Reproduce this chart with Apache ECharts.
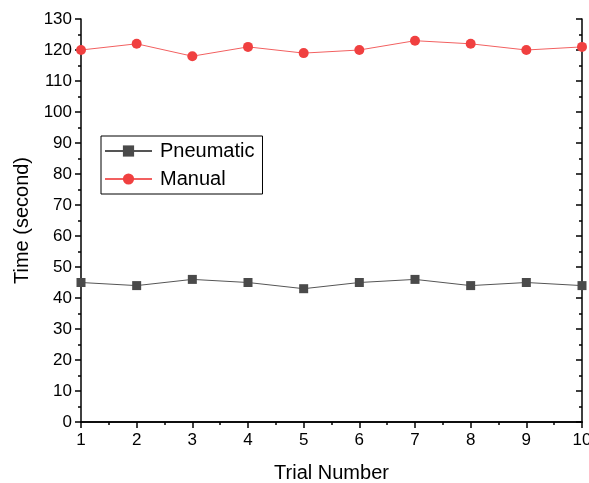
<!DOCTYPE html>
<html>
<head>
<meta charset="utf-8">
<script src="https://cdn.jsdelivr.net/npm/echarts@6/dist/echarts.min.js"></script>
<style>
  html, body { margin: 0; padding: 0; background: #fff; }
  #chart { width: 589px; height: 483px; }
</style>
</head>
<body>
<div id="chart"></div>
<script>
// trial numbers and measured times (seconds)
var trials = [1, 2, 3, 4, 5, 6, 7, 8, 9, 10];
var pneumatic = [45, 44, 46, 45, 43, 45, 46, 44, 45, 44];
var manual = [120, 122, 118, 121, 119, 120, 123, 122, 120, 121];

function pairs(vals) {
  var out = [];
  for (var i = 0; i < trials.length; i++) {
    out.push([trials[i], vals[i]]);
  }
  return out;
}

var chart = echarts.init(document.getElementById('chart'), null, { renderer: 'canvas' });

var font = 'Liberation Sans, Arial, sans-serif';
var axisLine = { show: true, lineStyle: { color: '#000', width: 1.5 } };

var option = {
  animation: false,
  textStyle: { fontFamily: font },
  grid: { left: 81, right: 7, top: 19, bottom: 61, outerBoundsMode: 'none', containLabel: false },
  legend: {
    orient: 'vertical',
    left: 101,
    top: 136,
    width: 157,
    padding: [5, 8, 5, 3],
    itemGap: 8,
    itemWidth: 47,
    itemHeight: 14,
    borderColor: '#000',
    borderWidth: 1,
    textStyle: { fontSize: 20, color: '#000', fontFamily: font, padding: [0, 0, 0, 3] },
    data: ['Pneumatic', 'Manual']
  },
  xAxis: [{
    type: 'value',
    min: 1, max: 10, interval: 1,
    name: 'Trial Number',
    nameLocation: 'middle',
    nameGap: 41,
    nameTextStyle: { fontSize: 20, color: '#000' },
    axisLine: axisLine,
    axisTick: { show: true, inside: false, length: 6, lineStyle: { color: '#000', width: 1.5 } },
    minorTick: { show: true, splitNumber: 2, length: 3, lineStyle: { color: '#000', width: 1.5 } },
    axisLabel: { fontSize: 17, color: '#000', margin: 10 },
    splitLine: { show: false }
  }, {
    type: 'value',
    position: 'top',
    min: 1, max: 10, interval: 1,
    axisLine: axisLine,
    axisTick: { show: true, inside: true, length: 6, lineStyle: { color: '#000', width: 1.5 } },
    minorTick: { show: true, splitNumber: 2, length: 3, lineStyle: { color: '#000', width: 1.5 } },
    axisLabel: { show: false },
    splitLine: { show: false }
  }],
  yAxis: [{
    type: 'value',
    min: 0, max: 130, interval: 10,
    name: 'Time (second)',
    nameLocation: 'middle',
    nameGap: 43,
    nameTextStyle: { fontSize: 20, color: '#000' },
    axisLine: axisLine,
    axisTick: { show: true, inside: false, length: 6, lineStyle: { color: '#000', width: 1.5 } },
    minorTick: { show: true, splitNumber: 2, length: 3, lineStyle: { color: '#000', width: 1.5 } },
    axisLabel: { fontSize: 17, color: '#000', margin: 9 },
    splitLine: { show: false }
  }, {
    type: 'value',
    position: 'right',
    min: 0, max: 130, interval: 10,
    axisLine: axisLine,
    axisTick: { show: true, inside: true, length: 6, lineStyle: { color: '#000', width: 1.5 } },
    minorTick: { show: true, splitNumber: 2, length: 3, lineStyle: { color: '#000', width: 1.5 } },
    axisLabel: { show: false },
    splitLine: { show: false }
  }],
  series: [{
    name: 'Pneumatic',
    type: 'line',
    data: pairs(pneumatic),
    symbol: 'rect',
    symbolSize: 9,
    color: '#4a4a4a',
    itemStyle: { color: '#4a4a4a' },
    lineStyle: { color: '#555', width: 1 },
    clip: false
  }, {
    name: 'Manual',
    type: 'line',
    data: pairs(manual),
    symbol: 'circle',
    symbolSize: 10,
    color: '#f04040',
    itemStyle: { color: '#f04040' },
    lineStyle: { color: '#f26060', width: 1 },
    clip: false
  }]
};

chart.setOption(option);
</script>
</body>
</html>
